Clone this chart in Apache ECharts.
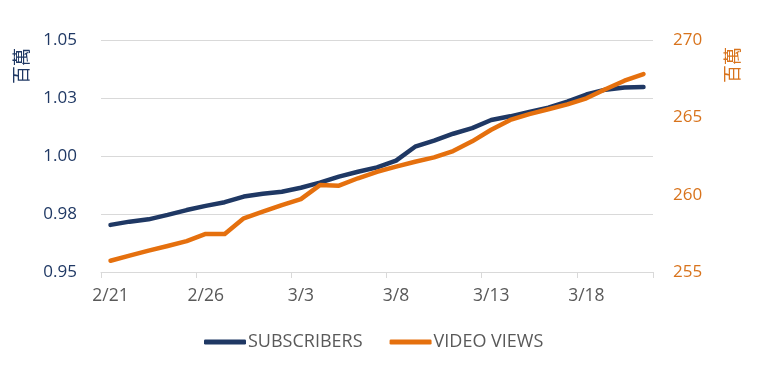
<!DOCTYPE html>
<html>
<head>
<meta charset="utf-8">
<script src="https://cdn.jsdelivr.net/npm/echarts@6/dist/echarts.min.js"></script>
<style>
html,body{margin:0;padding:0;background:#fff;}
#chart{width:768px;height:372px;}
</style>
</head>
<body>
<div id="chart"></div>
<script>
const categories = ['2/21','2/22','2/23','2/24','2/25','2/26','2/27','2/28','3/1','3/2','3/3','3/4','3/5','3/6','3/7','3/8','3/9','3/10','3/11','3/12','3/13','3/14','3/15','3/16','3/17','3/18','3/19','3/20','3/21'];
const subscribers = [0.9703,0.9717,0.9727,0.9746,0.9767,0.9785,0.9801,0.9825,0.9837,0.9846,0.9863,0.9885,0.9911,0.9932,0.9951,0.9980,1.0040,1.0066,1.0096,1.0120,1.0155,1.0171,1.0190,1.0208,1.0234,1.0265,1.0286,1.0295,1.0297];
const videoViews = [255.73,256.06,256.38,256.68,257.00,257.46,257.46,258.47,258.90,259.33,259.71,260.62,260.58,261.06,261.48,261.81,262.13,262.41,262.82,263.45,264.20,264.83,265.21,265.52,265.84,266.23,266.81,267.37,267.80];
const leftTickLabels = ['0.95','0.98','1.00','1.03','1.05'];
const rightTickLabels = ['255','260','265','270'];
const seriesNames = ['SUBSCRIBERS','VIDEO VIEWS'];
const unitName = '百萬';

const NAVY = '#1f3864';
const ORANGE = '#e5700e';
const FONT = '"Open Sans", "Noto Sans", sans-serif';

const chart = echarts.init(document.getElementById('chart'), null, {renderer:'canvas'});
chart.setOption({
  animation:false,
  backgroundColor:'#ffffff',
  textStyle:{fontFamily:FONT},
  grid:{left:101,right:115,top:40,bottom:100,containLabel:false},
  legend:{
    data:seriesNames,
    top:328,
    left:199,
    itemWidth:42,
    itemHeight:5,
    itemGap:27,
    icon:'roundRect',
    textStyle:{color:'#595959',fontSize:18,fontFamily:FONT,padding:[0,0,0,-3]}
  },
  xAxis:{
    type:'category',
    data:categories,
    boundaryGap:true,
    axisLine:{lineStyle:{color:'#d9d9d9',width:1}},
    axisTick:{show:true,interval:4,length:6,lineStyle:{color:'#d9d9d9'}},
    axisLabel:{interval:4,color:'#595959',fontSize:17.5,margin:15,fontFamily:FONT}
  },
  yAxis:[
    {
      type:'value',min:0.95,max:1.05,interval:0.025,
      axisLine:{show:false},axisTick:{show:false},
      splitLine:{lineStyle:{color:'#d9d9d9',width:1}},
      axisLabel:{color:'#1f3864',fontSize:17,margin:24,fontFamily:FONT,
        formatter:function(v){return leftTickLabels[Math.round((v-0.95)/0.025)];}}
    },
    {
      type:'value',min:255,max:270,interval:5,position:'right',
      axisLine:{show:false},axisTick:{show:false},
      splitLine:{show:false},
      axisLabel:{color:'#d8731c',fontSize:17,margin:20,fontFamily:FONT,
        formatter:function(v){return rightTickLabels[Math.round((v-255)/5)];}}
    }
  ],
  graphic:[
    {type:'text',x:21,y:66,rotation:Math.PI/2,style:{text:unitName,fill:'#1f3864',align:'center',verticalAlign:'middle',font:'18px "Noto Sans CJK TC", sans-serif'}},
    {type:'text',x:732,y:65,rotation:Math.PI/2,style:{text:unitName,fill:'#d8731c',align:'center',verticalAlign:'middle',font:'18px "Noto Sans CJK TC", sans-serif'}}
  ],
  series:[
    {name:seriesNames[0],type:'line',yAxisIndex:0,data:subscribers,showSymbol:false,symbol:'none',
      lineStyle:{color:NAVY,width:4.5,cap:'round',join:'round'},itemStyle:{color:NAVY},z:3},
    {name:seriesNames[1],type:'line',yAxisIndex:1,data:videoViews,showSymbol:false,symbol:'none',
      lineStyle:{color:ORANGE,width:4.5,cap:'round',join:'round'},itemStyle:{color:ORANGE},z:4}
  ]
});
</script>
</body>
</html>
